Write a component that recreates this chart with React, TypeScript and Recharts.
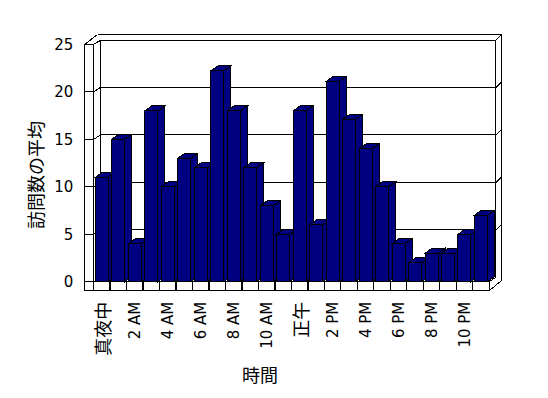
import { BarChart, Bar, XAxis, YAxis, CartesianGrid } from 'recharts';

const hours = [
  '真夜中', '1 AM', '2 AM', '3 AM', '4 AM', '5 AM', '6 AM', '7 AM', '8 AM', '9 AM', '10 AM', '11 AM',
  '正午', '1 PM', '2 PM', '3 PM', '4 PM', '5 PM', '6 PM', '7 PM', '8 PM', '9 PM', '10 PM', '11 PM',
];
const visits = [11, 15, 4, 18, 10, 13, 12, 22.2, 18, 12, 8, 5, 18, 6, 21.1, 17.1, 14, 10, 4, 2, 3, 3, 5, 7];
const yTicks = [0, 5, 10, 15, 20, 25];

const data = hours.map((hour, i) => ({ hour, visits: visits[i] }));

// plot area (front plane of the 3D box)
const W = 548;
const H = 398;
const PLOT_LEFT = 93.7;
const PLOT_RIGHT = 489.3;
const PLOT_TOP = 44.4;
const PLOT_BOTTOM = 281.7;
const Y_AXIS_W = 60;
const X_AXIS_H = 30;

// depth offsets
const BAR_DX = 7;
const BAR_DY = -5;
const WALL_DX = 6.8;
const WALL_DY = -4.4;
const NAVY = '#000080';
const CJK = '"Noto Sans CJK JP", sans-serif';
const LATIN = '"DejaVu Sans", sans-serif';

function Bar3D(props: any) {
  const { x, y, width, height } = props;
  const gap = width * 0.125;
  const base = y + height;
  const top = `${x},${y} ${x + BAR_DX},${y + BAR_DY} ${x + width + BAR_DX},${y + BAR_DY} ${x + width},${y}`;
  const side = `${x + width},${y} ${x + width + BAR_DX},${y + BAR_DY} ${x + width + BAR_DX},${base + BAR_DY} ${x + width},${base}`;
  return (
    <g shapeRendering="crispEdges">
      <rect x={x - gap} y={base} width={width + 2 * gap} height={9} fill="#fff" stroke="#000" />
      <polygon points={side} fill={NAVY} stroke="#000" />
      <polygon points={top} fill={NAVY} stroke="#000" />
      <rect x={x} y={y} width={width} height={height} fill={NAVY} stroke="#000" />
    </g>
  );
}

function GridLine(props: any) {
  const { x1, x2, y1, index } = props;
  if (Math.abs(y1 - PLOT_BOTTOM) < 1) return <g key={`gl-${index}`} />;
  const yb = y1 + WALL_DY;
  const pts = [
    [x1 - 9, y1],
    [x1, y1],
    [x1 + WALL_DX, yb],
    [x2 + WALL_DX, yb],
    [x2 + WALL_DX + 6, yb - 6],
  ]
    .map((p) => p.join(','))
    .join(' ');
  return <polyline key={`gl-${index}`} points={pts} fill="none" stroke="#000" shapeRendering="crispEdges" />;
}

function HourTick(props: any) {
  const { x, y, payload } = props;
  const label = String(payload.value);
  const isCjk = /[^\x00-\x7f]/.test(label);
  return (
    <text
      x={x}
      y={y}
      transform={`rotate(-90, ${x}, ${y})`}
      textAnchor="end"
      dominantBaseline="central"
      fill="#000"
      fontSize={isCjk ? 18 : 15}
      fontFamily={isCjk ? CJK : LATIN}
    >
      {label}
    </text>
  );
}

function Frame() {
  const L = 93.5;
  const B = 281.5;
  const segs: number[][] = [
    [84.5, 44.5, 84.5, 290.5],
    [84.5, 290.5, 489.5, 290.5],
    [84.5, 281.5, 93.5, 281.5],
    [L, 44.5, L, B],
    [84.5, 44.5, L, 44.5],
    [84.5, 44.5, 97.5, 34.5],
    [L, 44.5, 100.5, 40.5],
    [97.5, 34.5, 501.5, 34.5],
    [100.5, 40.5, 495.5, 40.5],
    [495.5, 40.5, 501.5, 34.5],
    [100.5, 40.5, 100.5, 277.5],
    [495.5, 40.5, 495.5, 277.5],
    [495.5, 277.5, 489.5, B],
    [501.5, 34.5, 501.5, 280.5],
    [501.5, 280.5, 489.5, 290.5],
  ];
  return (
    <svg width={W} height={H} style={{ position: 'absolute', left: 0, top: 0 }}>
      <g stroke="#000" shapeRendering="crispEdges">
        {segs.map((s, i) => (
          <line key={i} x1={s[0]} y1={s[1]} x2={s[2]} y2={s[3]} />
        ))}
      </g>
      <text
        x={35}
        y={175}
        transform="rotate(-90, 35, 175)"
        textAnchor="middle"
        dominantBaseline="central"
        fontSize={18}
        fontFamily={CJK}
        fill="#000"
      >
        訪問数の平均
      </text>
      <text x={260} y={374} textAnchor="middle" dominantBaseline="central" fontSize={18} fontFamily={CJK} fill="#000">
        時間
      </text>
    </svg>
  );
}

export default function App() {
  return (
    <div style={{ position: 'absolute', left: 0, top: 0, width: W, height: H, background: '#fff' }}>
      <Frame />
      <div style={{ position: 'absolute', left: 0, top: 0 }}>
        <BarChart
          width={W}
          height={H}
          data={data}
          barCategoryGap="10%"
          margin={{
            top: PLOT_TOP,
            right: W - PLOT_RIGHT,
            left: PLOT_LEFT - Y_AXIS_W,
            bottom: H - PLOT_BOTTOM - X_AXIS_H,
          }}
        >
          <CartesianGrid vertical={false} stroke="#000" horizontal={GridLine} />
          <XAxis
            dataKey="hour"
            interval={1}
            height={X_AXIS_H}
            axisLine={false}
            tickLine={false}
            tickSize={0}
            tickMargin={20}
            tick={<HourTick />}
          />
          <YAxis
            type="number"
            domain={[0, 25]}
            ticks={yTicks}
            width={Y_AXIS_W}
            axisLine={false}
            tickLine={false}
            tickSize={0}
            tickMargin={20.4}
            tick={{ fill: '#000', fontSize: 15, fontFamily: LATIN }}
          />
          <Bar dataKey="visits" shape={Bar3D} isAnimationActive={false} />
        </BarChart>
      </div>
    </div>
  );
}
